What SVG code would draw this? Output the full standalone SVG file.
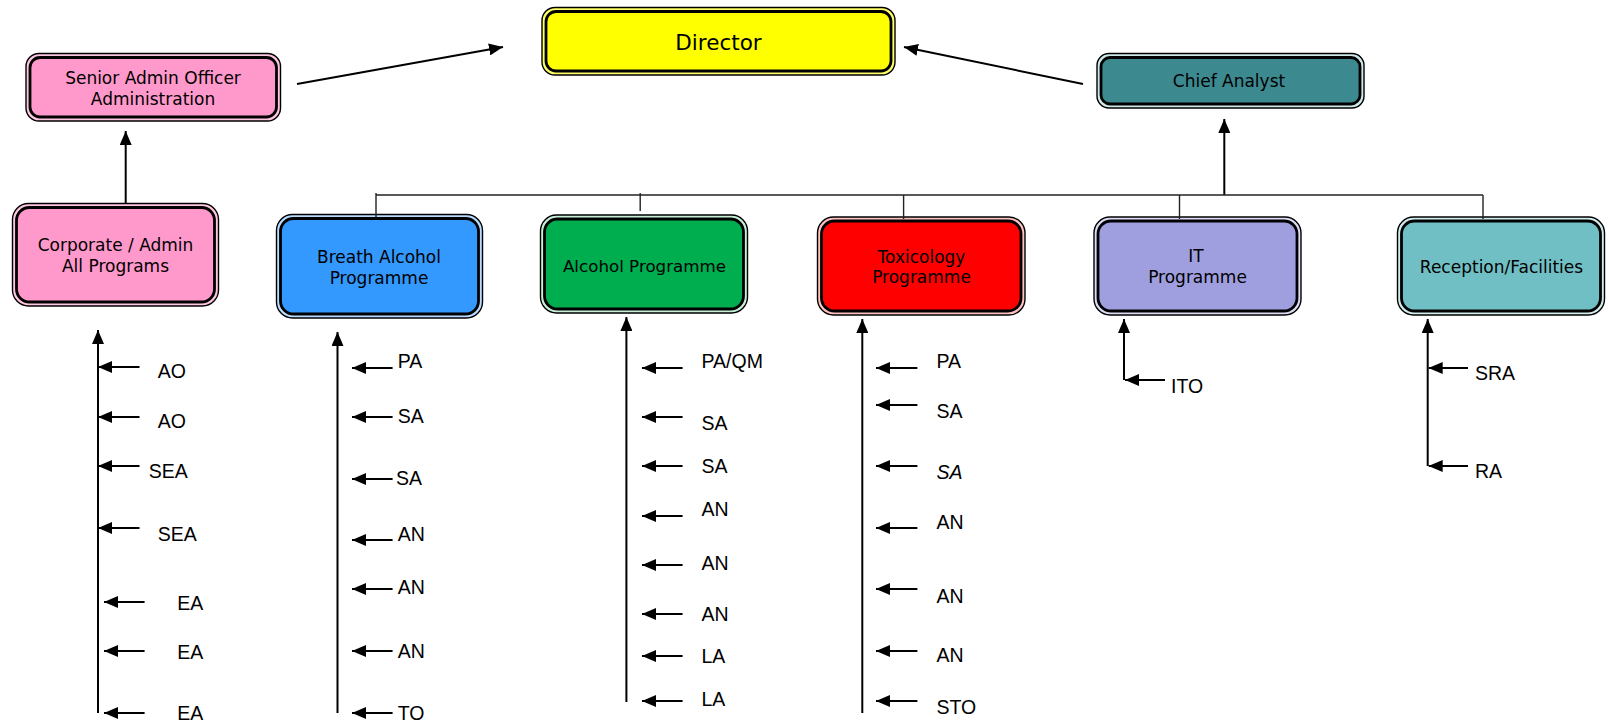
<svg xmlns="http://www.w3.org/2000/svg" width="1608" height="722" viewBox="0 0 1608 722">
<style>
.o{stroke:#000;stroke-width:1.4}
.i{stroke:#000;stroke-width:2.8}
.bt{font-family:"DejaVu Sans",Verdana,sans-serif;font-size:17px;fill:#000;text-anchor:middle}
.lb{font-family:"Liberation Sans",Arial,sans-serif;font-size:19.5px;fill:#000}
.c{stroke:#000;stroke-width:2;fill:none}
.bus{stroke:#222;stroke-width:1.4;fill:none}
</style>
<defs>
<marker id="ah" viewBox="0 0 14 12" refX="14" refY="6" markerWidth="14" markerHeight="12" markerUnits="userSpaceOnUse" orient="auto">
<path d="M0,0 L14,6 L0,12 z" fill="#000"/>
</marker>
</defs>
<rect width="1608" height="722" fill="#fff"/>

<g id="director">
<rect class="o" x="542" y="7.5" width="353" height="67.5" rx="13" fill="#ffff66"/>
<rect class="i" x="546" y="11.5" width="345" height="59.5" rx="10" fill="#ffff00"/>
<text class="bt" x="718.5" y="50" style="font-size:21.5px">Director</text>
</g>

<g id="senior-admin">
<rect class="o" x="26" y="53.5" width="254.5" height="67.5" rx="13" fill="#ffc6e2"/>
<rect class="i" x="30" y="57.5" width="246.5" height="59.5" rx="10" fill="#ff99cc"/>
<text class="bt" x="153" y="84">Senior Admin Officer</text>
<text class="bt" x="153" y="105">Administration</text>
</g>

<g id="chief-analyst">
<rect class="o" x="1097" y="53.5" width="267" height="54.5" rx="12" fill="#cfe8ea"/>
<rect class="i" x="1101" y="57.5" width="259" height="46.5" rx="9" fill="#3c8a90"/>
<text class="bt" x="1229" y="87">Chief Analyst</text>
</g>

<g id="corporate">
<rect class="o" x="12.5" y="203.5" width="206" height="102.5" rx="16" fill="#ffc6e2"/>
<rect class="i" x="16.5" y="207.5" width="198" height="94.5" rx="13" fill="#ff99cc"/>
<text class="bt" x="115.5" y="251">Corporate / Admin</text>
<text class="bt" x="115.5" y="272">All Programs</text>
</g>

<g id="breath-alcohol">
<rect class="o" x="276.5" y="214.5" width="206" height="103.5" rx="16" fill="#b8dcff"/>
<rect class="i" x="280.5" y="218.5" width="198" height="95.5" rx="13" fill="#3399ff"/>
<text class="bt" x="379" y="263">Breath Alcohol</text>
<text class="bt" x="379" y="284">Programme</text>
</g>

<g id="alcohol">
<rect class="o" x="540.5" y="215" width="207" height="98" rx="16" fill="#c8f0d8"/>
<rect class="i" x="544.5" y="219" width="199" height="90" rx="13" fill="#00ad4f"/>
<text class="bt" x="644.5" y="272" style="font-size:16.7px">Alcohol Programme</text>
</g>

<g id="toxicology">
<rect class="o" x="817.5" y="217" width="207.5" height="98" rx="16" fill="#ffc0c0"/>
<rect class="i" x="821.5" y="221" width="199.5" height="90" rx="13" fill="#ff0000"/>
<text class="bt" x="921.5" y="263">Toxicology</text>
<text class="bt" x="921.5" y="283">Programme</text>
</g>

<g id="it">
<rect class="o" x="1094" y="217" width="207" height="98" rx="16" fill="#dcdcf6"/>
<rect class="i" x="1098" y="221" width="199" height="90" rx="13" fill="#9f9fdf"/>
<text class="bt" x="1196" y="262">IT</text>
<text class="bt" x="1197.5" y="283">Programme</text>
</g>

<g id="reception">
<rect class="o" x="1397.5" y="217" width="207" height="98" rx="16" fill="#d2ecee"/>
<rect class="i" x="1401.5" y="221" width="199" height="90" rx="13" fill="#70bfc4"/>
<text class="bt" x="1501.5" y="273">Reception/Facilities</text>
</g>

<g id="connectors">
<line class="c" x1="297" y1="84" x2="503" y2="47" marker-end="url(#ah)"/>
<line class="c" x1="1083" y1="84" x2="904" y2="47" marker-end="url(#ah)"/>
<line class="c" x1="125.7" y1="204" x2="125.7" y2="131" marker-end="url(#ah)"/>
<line class="c" x1="1224.3" y1="195" x2="1224.3" y2="119" marker-end="url(#ah)"/>
<path class="bus" d="M376,195 H1483"/>
<path class="bus" d="M376,193 V217 M640.2,193 V211 M903.6,195 V219 M1179.5,195 V219 M1483,195 V219"/>

<line class="c" x1="98" y1="713" x2="98" y2="330" marker-end="url(#ah)"/>
<line class="c" x1="139.5" y1="367" x2="98" y2="367" marker-end="url(#ah)"/>
<line class="c" x1="139.5" y1="417" x2="98" y2="417" marker-end="url(#ah)"/>
<line class="c" x1="139.5" y1="466" x2="98" y2="466" marker-end="url(#ah)"/>
<line class="c" x1="139.5" y1="528" x2="98" y2="528" marker-end="url(#ah)"/>
<line class="c" x1="144.6" y1="602" x2="104" y2="602" marker-end="url(#ah)"/>
<line class="c" x1="144.6" y1="651" x2="104" y2="651" marker-end="url(#ah)"/>
<line class="c" x1="144.6" y1="713" x2="104" y2="713" marker-end="url(#ah)"/>

<line class="c" x1="337.5" y1="713" x2="337.5" y2="332" marker-end="url(#ah)"/>
<line class="c" x1="392.6" y1="368" x2="352" y2="368" marker-end="url(#ah)"/>
<line class="c" x1="392.6" y1="417" x2="352" y2="417" marker-end="url(#ah)"/>
<line class="c" x1="392.6" y1="479" x2="352" y2="479" marker-end="url(#ah)"/>
<line class="c" x1="392.6" y1="540" x2="352" y2="540" marker-end="url(#ah)"/>
<line class="c" x1="392.6" y1="589" x2="352" y2="589" marker-end="url(#ah)"/>
<line class="c" x1="392.6" y1="651" x2="352" y2="651" marker-end="url(#ah)"/>
<line class="c" x1="392.6" y1="713" x2="352" y2="713" marker-end="url(#ah)"/>

<line class="c" x1="626.4" y1="702" x2="626.4" y2="317" marker-end="url(#ah)"/>
<line class="c" x1="682.6" y1="368" x2="642" y2="368" marker-end="url(#ah)"/>
<line class="c" x1="682.6" y1="417" x2="642" y2="417" marker-end="url(#ah)"/>
<line class="c" x1="682.6" y1="466" x2="642" y2="466" marker-end="url(#ah)"/>
<line class="c" x1="682.6" y1="516" x2="642" y2="516" marker-end="url(#ah)"/>
<line class="c" x1="682.6" y1="565" x2="642" y2="565" marker-end="url(#ah)"/>
<line class="c" x1="682.6" y1="614" x2="642" y2="614" marker-end="url(#ah)"/>
<line class="c" x1="682.6" y1="656" x2="642" y2="656" marker-end="url(#ah)"/>
<line class="c" x1="682.6" y1="701" x2="642" y2="701" marker-end="url(#ah)"/>

<line class="c" x1="862.3" y1="713" x2="862.3" y2="319" marker-end="url(#ah)"/>
<line class="c" x1="917.4" y1="368" x2="876" y2="368" marker-end="url(#ah)"/>
<line class="c" x1="917.4" y1="405" x2="876" y2="405" marker-end="url(#ah)"/>
<line class="c" x1="917.4" y1="466" x2="876" y2="466" marker-end="url(#ah)"/>
<line class="c" x1="917.4" y1="528" x2="876" y2="528" marker-end="url(#ah)"/>
<line class="c" x1="917.4" y1="589" x2="876" y2="589" marker-end="url(#ah)"/>
<line class="c" x1="917.4" y1="651" x2="876" y2="651" marker-end="url(#ah)"/>
<line class="c" x1="917.4" y1="701" x2="876" y2="701" marker-end="url(#ah)"/>

<line class="c" x1="1124" y1="380" x2="1124" y2="319" marker-end="url(#ah)"/>
<line class="c" x1="1165" y1="380" x2="1125" y2="380" marker-end="url(#ah)"/>

<line class="c" x1="1427.7" y1="466" x2="1427.7" y2="319" marker-end="url(#ah)"/>
<line class="c" x1="1468" y1="368" x2="1428.7" y2="368" marker-end="url(#ah)"/>
<line class="c" x1="1468" y1="466" x2="1428.7" y2="466" marker-end="url(#ah)"/>
</g>

<g id="labels">
<text class="lb" x="157.7" y="378">AO</text>
<text class="lb" x="157.7" y="428">AO</text>
<text class="lb" x="148.8" y="478">SEA</text>
<text class="lb" x="157.7" y="541">SEA</text>
<text class="lb" x="177.3" y="610">EA</text>
<text class="lb" x="177.3" y="659">EA</text>
<text class="lb" x="177.3" y="720">EA</text>

<text class="lb" x="397.7" y="368">PA</text>
<text class="lb" x="397.7" y="423">SA</text>
<text class="lb" x="396" y="485">SA</text>
<text class="lb" x="397.7" y="541">AN</text>
<text class="lb" x="397.7" y="594">AN</text>
<text class="lb" x="397.7" y="658">AN</text>
<text class="lb" x="397.7" y="720">TO</text>

<text class="lb" x="701.5" y="368">PA/QM</text>
<text class="lb" x="701.5" y="430">SA</text>
<text class="lb" x="701.5" y="473">SA</text>
<text class="lb" x="701.5" y="516">AN</text>
<text class="lb" x="701.5" y="570">AN</text>
<text class="lb" x="701.5" y="621">AN</text>
<text class="lb" x="701.5" y="663">LA</text>
<text class="lb" x="701.5" y="706">LA</text>

<text class="lb" x="936.4" y="368">PA</text>
<text class="lb" x="936.4" y="418">SA</text>
<text class="lb" x="936.4" y="479" font-style="italic">SA</text>
<text class="lb" x="936.4" y="529">AN</text>
<text class="lb" x="936.4" y="603">AN</text>
<text class="lb" x="936.4" y="662">AN</text>
<text class="lb" x="936.4" y="714">STO</text>

<text class="lb" x="1171" y="393">ITO</text>
<text class="lb" x="1475" y="380">SRA</text>
<text class="lb" x="1475" y="478">RA</text>
</g>
</svg>
